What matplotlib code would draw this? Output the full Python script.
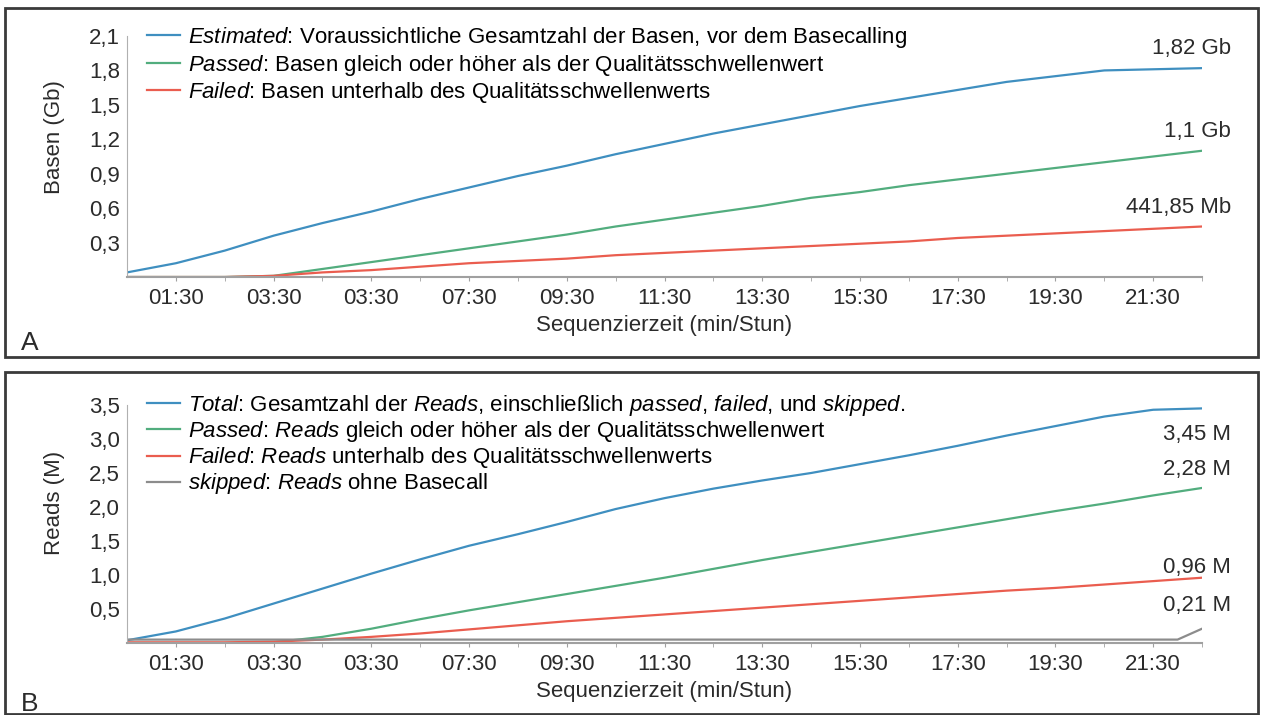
import matplotlib
matplotlib.use('Agg')
import matplotlib.pyplot as plt
from matplotlib.patches import Rectangle
from matplotlib.ticker import FixedLocator

plt.rcParams['font.family'] = ['Liberation Sans', 'DejaVu Sans']
plt.rcParams['mathtext.fontset'] = 'custom'
plt.rcParams['mathtext.rm'] = 'Liberation Sans'
plt.rcParams['mathtext.it'] = 'Liberation Sans:italic'

# --- data (hours since start) ---
hours = [0.5, 1.5, 2.5, 3.5, 4.5, 5.5, 6.5, 7.5, 8.5, 9.5, 10.5, 11.5,
         12.5, 13.5, 14.5, 15.5, 16.5, 17.5, 18.5, 19.5, 20.5, 21.5, 22.5]

# panel A: bases (Gb)
bases_estimated = [0.04, 0.12, 0.23, 0.36, 0.47, 0.57, 0.68, 0.78, 0.88, 0.97, 1.07, 1.16,
                   1.25, 1.33, 1.41, 1.49, 1.56, 1.63, 1.70, 1.75, 1.80, 1.81, 1.82]
bases_passed = [0.0, 0.0, 0.0, 0.01, 0.07, 0.13, 0.19, 0.25, 0.31, 0.37, 0.44, 0.50,
                0.56, 0.62, 0.69, 0.74, 0.80, 0.85, 0.90, 0.95, 1.00, 1.05, 1.10]
bases_failed = [0.0, 0.0, 0.0, 0.01, 0.04, 0.06, 0.09, 0.12, 0.14, 0.16, 0.19, 0.21,
                0.23, 0.25, 0.27, 0.29, 0.31, 0.34, 0.36, 0.38, 0.40, 0.42, 0.44]

# panel B: reads (M)
reads_total = [0.04, 0.17, 0.36, 0.58, 0.80, 1.02, 1.23, 1.43, 1.60, 1.78, 1.97, 2.13,
               2.27, 2.39, 2.50, 2.63, 2.76, 2.90, 3.05, 3.19, 3.33, 3.43, 3.45]
reads_passed = [0.0, 0.0, 0.0, 0.01, 0.09, 0.21, 0.35, 0.48, 0.60, 0.72, 0.84, 0.96,
                1.09, 1.22, 1.34, 1.46, 1.58, 1.70, 1.82, 1.94, 2.05, 2.17, 2.28]
reads_failed = [0.01, 0.01, 0.01, 0.02, 0.05, 0.09, 0.14, 0.20, 0.26, 0.32, 0.37, 0.42,
                0.47, 0.52, 0.57, 0.62, 0.67, 0.72, 0.77, 0.81, 0.86, 0.91, 0.96]
skipped_hours = [0.5, 22.0, 22.5]
reads_skipped = [0.05, 0.05, 0.21]

xtick_pos = [1.5, 3.5, 5.5, 7.5, 9.5, 11.5, 13.5, 15.5, 17.5, 19.5, 21.5]
xtick_labels = ['01:30', '03:30', '03:30', '07:30', '09:30', '11:30',
                '13:30', '15:30', '17:30', '19:30', '21:30']
ytick_a = [0.3, 0.6, 0.9, 1.2, 1.5, 1.8, 2.1]
ytick_b = [0.5, 1.0, 1.5, 2.0, 2.5, 3.0, 3.5]

end_labels_a = ['1,82 Gb', '1,1 Gb', '441,85 Mb']
end_labels_b = ['3,45 M', '2,28 M', '0,96 M', '0,21 M']

legend_a = [r'$\it{Estimated}$: Voraussichtliche Gesamtzahl der Basen, vor dem Basecalling',
            r'$\it{Passed}$: Basen gleich oder höher als der Qualitätsschwellenwert',
            r'$\it{Failed}$: Basen unterhalb des Qualitätsschwellenwerts']
legend_b = [r'$\it{Total}$: Gesamtzahl der $\it{Reads}$, einschließlich $\it{passed}$, $\it{failed}$, und $\it{skipped}$.',
            r'$\it{Passed}$: $\it{Reads}$ gleich oder höher als der Qualitätsschwellenwert',
            r'$\it{Failed}$: $\it{Reads}$ unterhalb des Qualitätsschwellenwerts',
            r'$\it{skipped}$: $\it{Reads}$ ohne Basecall']

BLUE = '#3f8fc0'
GREEN = '#52ad7e'
RED = '#ea5d4f'
GRAY = '#8c8c8c'
TXT = '#2b2b2b'
FS = 16

W, H = 1261, 715
fig = plt.figure(figsize=(W / 100, H / 100), dpi=100)

# panel frames
fig.patches.append(Rectangle((5 / W, 1 - 357 / H), 1253 / W, 349 / H, transform=fig.transFigure,
                             fill=False, edgecolor='#3a3a3a', linewidth=2))
fig.patches.append(Rectangle((5 / W, 1 - 714 / H), 1253 / W, 342 / H, transform=fig.transFigure,
                             fill=False, edgecolor='#3a3a3a', linewidth=2))

ax_a = fig.add_axes([127 / W, 1 - 277 / H, 1075 / W, 241 / H])
ax_b = fig.add_axes([127 / W, 1 - 643 / H, 1075 / W, 238 / H])


def style_axis(ax, yticks, ylabel, ylabel_y):
    ax.set_xlim(0.5, 22.5)
    ax.set_ylim(0, yticks[-1])
    for s in ['top', 'right']:
        ax.spines[s].set_visible(False)
    ax.spines['left'].set_color('#b0b0b0')
    ax.spines['bottom'].set_color('#a0a0a0')
    ax.spines['bottom'].set_linewidth(1.5)
    ax.set_xticks(xtick_pos)
    ax.set_xticklabels(xtick_labels)
    ax.xaxis.set_minor_locator(FixedLocator([2.5, 4.5, 6.5, 8.5, 10.5, 12.5, 14.5,
                                             16.5, 18.5, 20.5, 22.5]))
    ax.tick_params(axis='x', which='both', length=3, color='#a0a0a0', pad=5,
                   labelsize=FS, labelcolor=TXT)
    ax.set_yticks(yticks)
    ax.set_yticklabels([f'{v:.1f}'.replace('.', ',') for v in yticks])
    ax.tick_params(axis='y', length=0, pad=5, labelsize=FS, labelcolor=TXT)
    ax.set_xlabel('Sequenzierzeit (min/Stun)', fontsize=FS, color=TXT, labelpad=4.5)
    ax.set_ylabel(ylabel, fontsize=FS, color=TXT)
    ax.yaxis.set_label_coords(-0.058, ylabel_y)


# --- panel A ---
ax_a.plot(hours, bases_estimated, color=BLUE, lw=1.6, label=legend_a[0])
ax_a.plot(hours, bases_passed, color=GREEN, lw=1.6, label=legend_a[1])
ax_a.plot(hours, bases_failed, color=RED, lw=1.6, label=legend_a[2])
style_axis(ax_a, ytick_a, 'Basen (Gb)', 0.58)
ax_a.legend(loc='upper left', bbox_to_anchor=(0.019, 1.046), frameon=False, fontsize=FS,
            handlelength=1.45, handletextpad=0.36, labelspacing=0.12, borderaxespad=0, borderpad=0)

offs_a = [14, 14, 14]
for series, lab, dy in zip([bases_estimated, bases_passed, bases_failed], end_labels_a, offs_a):
    ax_a.annotate(lab, xy=(hours[-1], series[-1]), xytext=(21, dy), textcoords='offset points',
                  ha='right', va='center', fontsize=FS, color=TXT, annotation_clip=False)

# --- panel B ---
ax_b.plot(hours, reads_total, color=BLUE, lw=1.6, label=legend_b[0])
ax_b.plot(hours, reads_passed, color=GREEN, lw=1.6, label=legend_b[1])
ax_b.plot(hours, reads_failed, color=RED, lw=1.6, label=legend_b[2])
ax_b.plot(skipped_hours, reads_skipped, color=GRAY, lw=1.6, label=legend_b[3])
style_axis(ax_b, ytick_b, 'Reads (M)', 0.59)
ax_b.legend(loc='upper left', bbox_to_anchor=(0.019, 1.05), frameon=False, fontsize=FS,
            handlelength=1.45, handletextpad=0.36, labelspacing=0.05, borderaxespad=0, borderpad=0)

offs_b = [-19, 13, 7, 17]
for series, lab, dy in zip([reads_total, reads_passed, reads_failed, reads_skipped],
                           end_labels_b, offs_b):
    ax_b.annotate(lab, xy=(hours[-1], series[-1]), xytext=(21, dy), textcoords='offset points',
                  ha='right', va='center', fontsize=FS, color=TXT, annotation_clip=False)

# panel letters
fig.text(21 / W, 1 - 343 / H, 'A', fontsize=19, color=TXT, va='center')
fig.text(21 / W, 1 - 704 / H, 'B', fontsize=19, color=TXT, va='center')

fig.savefig('out.png', dpi=100)
